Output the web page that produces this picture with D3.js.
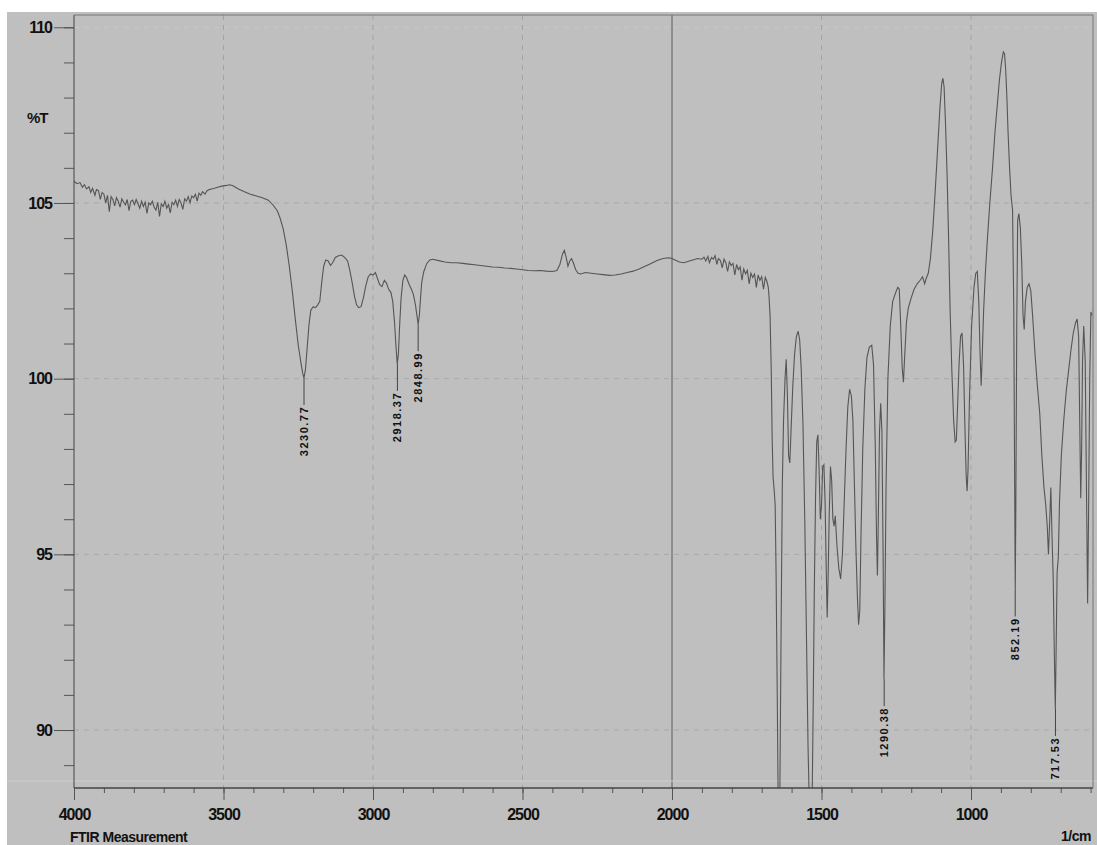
<!DOCTYPE html>
<html>
<head>
<meta charset="utf-8">
<script src="https://cdn.jsdelivr.net/npm/d3@7"></script>
<style>
body{margin:0;background:#fff;}
svg{display:block;font-family:"Liberation Sans",Arial,sans-serif;}
</style>
</head>
<body>
<svg id="screen" width="1097" height="845"></svg>
<script>
// spectrum (1/cm, %T)
var wavenumber=[
4000,3990,3980,3972,3965,3958,3950,3944,3938,3930,3925,3918,3912,3906,3900,3894,3888,3882,3876,3870,3864,3858,3852,3846,3840,3834,3828,3822,3816,3810,3804,3798,3792,3786,3780,3774,3768,3762,3756,3750,3744,3738,3732,3726,3720,3714,3708,3702,3696,3690,3684,3678,3672,3666,3660,3654,3648,3642,3636,3630,3624,3618,3612,3606,3600,3594,3588,3582,3576,3570,3562,3555,3548,
3540,3530,3520,3505,3490,3480,3470,3450,3430,3410,3390,3370,3350,3335,3320,3310,3300,3290,3280,3270,3260,3250,3240,3235,3231,3226,3220,3214,3208,3200,3192,3185,3178,3172,3165,3158,3150,3142,3135,3126,3115,3105,3095,3085,3078,3070,3062,3055,3048,3040,3032,3024,3016,3008,3000,2992,2985,2978,2970,2962,2955,2948,2940,2934,2928,2923,2919,2915,2911,2906,2900,2894,2888,2880,2872,2865,2858,2854,2849,2845,2841,2837,2830,2820,2810,2800,2780,2760,2740,2720,2700,2680,2660,2640,2620,2600,2580,2560,2540,2520,2500,2480,2460,2440,2420,2400,2385,2375,2366,2360,2354,2348,2342,2336,2330,2322,2314,2305,2290,2270,2250,2230,2210,2190,2170,2150,2130,2110,2090,2070,2050,2030,2010,2000,1990,1975,1960,1945,1930,1915,
1900,1893,1887,1880,1875,1868,1862,1856,1850,1845,1838,1832,1826,1820,1814,1808,1802,1796,1790,1784,1778,1772,1766,1760,1754,1748,1742,1736,1730,1724,1718,1712,1706,1700,1694,1688,1682,1678,
1676,1672,1668,1665,1662,1658,1655,1652,1648,1645,1642,1639,1635,1631,1627,1622,1618,1614,1610,1606,1602,1596,1590,1584,1578,1573,1568,1562,1556,1550,1545,1540,1536,1532,1528,1524,1520,1516,1512,1508,1504,1500,1496,1492,1488,1484,1481,1478,1474,1470,1466,1462,1458,1454,1448,1442,1436,1430,1424,1418,1412,1406,1400,1395,1390,1385,1380,1376,1372,1368,1362,1355,1348,1340,1332,1326,1320,1316,1313,1310,1306,1302,1298,1294,1291,1288,1284,1278,1270,1262,1252,1245,1240,1235,1230,1226,1222,1216,1210,1200,1190,1180,1170,1162,1155,1150,1143,1136,1128,1120,1112,1104,1098,1094,1090,1085,1080,1075,1070,1064,1058,1053,1049,1045,1040,1035,1030,1025,1020,1016,1013,1010,1005,998,990,984,979,974,970,966,963,958,952,945,937,928,920,912,905,898,892,888,884,880,876,871,866,861,857,854,852,850,847,844,840,835,830,826,822,818,812,806,800,794,786,778,770,763,756,750,745,741,737,733,729,725,721,718,715,712,708,704,698,690,682,674,666,658,650,645,640,636,633,630,627,623,618,614,610,607,603,599,596];
var transmittance=[
105.62,105.55,105.58,105.45,105.52,105.40,105.46,105.30,105.42,105.22,105.38,105.35,105.10,105.30,105.25,105.00,105.22,104.75,105.18,105.10,104.92,105.15,105.05,104.88,105.12,105.02,104.95,105.10,104.78,105.05,105.08,104.95,105.10,104.98,104.85,105.05,104.90,105.02,104.70,105.00,104.95,105.05,104.88,104.80,105.02,104.62,104.98,104.90,105.05,104.85,104.95,104.72,105.02,104.95,105.08,104.90,105.10,105.00,104.82,105.12,105.05,105.18,105.00,105.20,105.15,105.25,105.05,105.28,105.22,105.32,105.25,105.35,105.38,
105.40,105.42,105.45,105.48,105.50,105.52,105.50,105.40,105.32,105.25,105.20,105.15,105.08,104.95,104.78,104.55,104.25,103.80,103.20,102.50,101.70,100.95,100.40,100.15,100.02,100.25,100.90,101.55,101.95,102.05,102.02,102.10,102.20,102.70,103.20,103.38,103.35,103.22,103.30,103.45,103.50,103.52,103.45,103.35,103.10,102.75,102.35,102.10,102.02,102.05,102.30,102.65,102.90,102.98,102.95,103.02,102.85,102.68,102.62,102.80,102.72,102.55,102.45,102.20,101.60,100.90,100.42,100.70,101.50,102.30,102.80,102.95,102.88,102.70,102.55,102.40,102.10,101.85,101.55,101.80,102.30,102.75,103.05,103.28,103.38,103.40,103.36,103.32,103.30,103.30,103.28,103.26,103.24,103.22,103.20,103.18,103.17,103.15,103.14,103.12,103.10,103.08,103.07,103.08,103.06,103.05,103.08,103.25,103.55,103.65,103.45,103.20,103.35,103.42,103.30,103.10,103.00,102.98,103.02,103.00,102.98,102.96,102.94,102.95,102.98,103.02,103.06,103.12,103.20,103.28,103.36,103.42,103.44,103.42,103.38,103.32,103.30,103.34,103.38,103.42,
103.40,103.46,103.35,103.48,103.30,103.45,103.40,103.50,103.25,103.42,103.36,103.15,103.40,103.30,103.05,103.32,103.22,103.28,102.95,103.25,103.10,103.18,102.80,103.12,102.98,103.08,102.70,103.00,102.88,102.98,102.60,102.95,102.80,102.90,102.55,102.88,102.75,102.60,
102.40,101.80,100.20,98.30,97.20,96.80,96.40,94.50,91.00,88.00,86.80,88.50,93.00,97.00,98.80,100.00,100.55,99.50,97.80,97.60,98.50,99.80,100.70,101.20,101.35,101.10,100.30,98.70,96.00,92.50,89.50,87.60,86.80,87.50,90.50,94.00,96.60,98.20,98.40,97.40,96.00,96.40,97.50,97.55,96.50,94.50,93.20,94.30,96.20,97.50,97.10,96.00,95.80,96.10,95.20,94.60,94.30,95.00,96.50,98.00,99.20,99.70,99.50,98.80,97.00,95.20,93.80,93.00,93.40,95.50,98.00,99.70,100.60,100.90,100.95,100.40,98.00,95.50,94.40,96.00,98.50,99.30,98.50,95.00,91.45,93.50,97.00,100.00,101.50,102.20,102.45,102.60,102.55,101.50,100.30,99.90,100.60,101.60,102.00,102.30,102.55,102.70,102.80,102.90,102.70,102.85,103.00,103.40,104.20,105.30,106.50,107.70,108.40,108.55,108.30,107.20,105.80,104.00,102.00,100.20,98.80,98.20,98.25,99.20,100.40,101.20,101.30,100.40,98.50,97.20,96.80,97.40,99.50,101.50,102.60,103.00,103.05,102.20,100.80,99.80,100.50,101.90,103.00,104.00,105.00,106.00,107.00,107.80,108.50,109.00,109.30,109.25,108.80,108.00,107.00,106.00,105.20,104.80,102.00,97.00,94.00,96.50,101.50,104.50,104.70,104.30,103.20,101.80,101.40,102.20,102.60,102.70,102.50,101.80,100.70,99.80,99.00,97.80,96.90,96.40,95.80,95.00,95.90,96.90,95.50,94.30,92.00,90.60,92.50,94.50,94.90,96.50,97.80,98.80,99.60,100.20,100.80,101.30,101.60,101.70,101.20,98.50,96.60,98.00,100.50,101.50,100.50,97.00,93.60,96.00,100.00,101.90,101.80];

// labelled peaks
var peakWavenumber=[3230.77,2918.37,2848.99,1290.38,852.19,717.53];
var peakT=[100.02,100.42,101.55,91.45,94.00,90.60];

// axis ticks
var xTicks=[4000,3500,3000,2500,2000,1500,1000];
var xGrid=[3500,3000,2500,1500,1000];
var yTicks=[90,95,100,105,110];

var svg=d3.select("#screen");
var plotLeft=74, plotRight=1093, plotTop=15, plotBottom=788;

var x=d3.scaleLinear().domain([4000,592]).range([plotLeft,plotRight]);
var y=d3.scaleLinear().domain([88.35,110.35]).range([plotBottom,plotTop]);

//Grey background with white strip at top and left
svg.append("rect").attr("x",0).attr("y",0).attr("width",1097).attr("height",845).attr("fill","#fff");
svg.append("rect").attr("x",7).attr("y",12).attr("width",1090).attr("height",833).attr("fill","#bfbfbf");

svg.append("clipPath").attr("id","plotclip").append("rect")
    .attr("x",plotLeft).attr("y",plotTop).attr("width",plotRight-plotLeft).attr("height",plotBottom-plotTop);

//Dashed grid lines
svg.selectAll(".hgrid").data(yTicks).enter().append("line").attr("class","hgrid")
    .attr("x1",plotLeft).attr("x2",plotRight)
    .attr("y1",function(d){return y(d);}).attr("y2",function(d){return y(d);})
    .attr("stroke",function(d){return d==110?"#c9c9c9":"#a9a9a9";}).attr("stroke-dasharray","5,5");
svg.selectAll(".vgrid").data(xGrid).enter().append("line").attr("class","vgrid")
    .attr("y1",plotTop).attr("y2",plotBottom)
    .attr("x1",function(d){return x(d);}).attr("x2",function(d){return x(d);})
    .attr("stroke","#a3a3a3").attr("stroke-dasharray","5,5");

//Solid marker line at 2000
svg.append("line").attr("x1",x(2000)).attr("x2",x(2000)).attr("y1",plotTop).attr("y2",plotBottom)
    .attr("stroke","#5a5a5a").attr("stroke-width",1);

//light line just over the axis
svg.append("line").attr("x1",7).attr("x2",1097).attr("y1",781).attr("y2",781).attr("stroke","#cfcfcf");

//Spectrum
var data=[];
for(var i=0;i<wavenumber.length;i++){
    data.push([wavenumber[i],transmittance[i]]);
}
var line=d3.line().x(function(d){return x(d[0]);}).y(function(d){return y(d[1]);});
svg.append("path").datum(data).attr("d",line).attr("fill","none")
    .attr("stroke","#555").attr("stroke-width",1.1).attr("clip-path","url(#plotclip)");

//Peak markers and labels
var peaks=[];
for(var i=0;i<peakWavenumber.length;i++){
    peaks.push([peakWavenumber[i],peakT[i]]);
}
svg.selectAll(".pline").data(peaks).enter().append("line").attr("class","pline")
    .attr("x1",function(d){return x(d[0]);}).attr("x2",function(d){return x(d[0]);})
    .attr("y1",function(d){return y(d[1]);}).attr("y2",function(d){return y(d[1])+27;})
    .attr("stroke","#444");
svg.selectAll(".plabel").data(peaks).enter().append("text").attr("class","plabel")
    .attr("transform",function(d){return "translate("+(x(d[0])+4)+","+(y(d[1])+28)+") rotate(-90)";})
    .attr("text-anchor","end").attr("font-size","11px").attr("font-weight","bold")
    .attr("letter-spacing","1.5px").attr("fill","#111")
    .text(function(d){return d[0].toFixed(2);});

//Axes
var yAxis=d3.axisLeft(y).tickValues(yTicks).tickSize(20).tickPadding(2).tickFormat(d3.format("d"));
var yMinor=d3.axisLeft(y).tickValues(d3.range(89,111,1)).tickSize(10).tickFormat("");
var xAxis=d3.axisBottom(x).tickValues(xTicks).tickSize(12).tickPadding(9).tickFormat(d3.format("d"));
var xMinor=d3.axisBottom(x).tickValues(d3.range(600,4001,100)).tickSize(5).tickFormat("");

svg.append("g").attr("transform","translate("+plotLeft+",0)").call(yMinor);
svg.append("g").attr("transform","translate("+plotLeft+",0)").call(yAxis);
svg.append("g").attr("transform","translate(0,"+plotBottom+")").call(xMinor);
svg.append("g").attr("transform","translate(0,"+plotBottom+")").call(xAxis);

svg.selectAll(".domain").remove();
svg.selectAll(".tick line").attr("stroke","#555");
svg.selectAll(".tick text").attr("font-size","16px").attr("font-weight","bold")
    .attr("letter-spacing","-1px").attr("fill","#111").attr("font-family","Liberation Sans, Arial, sans-serif");

//Frame
svg.append("line").attr("x1",plotLeft).attr("x2",plotLeft).attr("y1",plotTop).attr("y2",plotBottom).attr("stroke","#444");
svg.append("line").attr("x1",plotLeft).attr("x2",plotRight).attr("y1",plotBottom).attr("y2",plotBottom).attr("stroke","#444").attr("stroke-width",1.5);
svg.append("line").attr("x1",plotLeft).attr("x2",plotRight).attr("y1",plotTop).attr("y2",plotTop).attr("stroke","#777");
svg.append("line").attr("x1",plotRight).attr("x2",plotRight).attr("y1",plotTop).attr("y2",plotBottom).attr("stroke","#777");

//Titles
svg.append("text").attr("x",27).attr("y",123).attr("font-size","15px").attr("font-weight","bold")
    .attr("letter-spacing","-1px").attr("fill","#111").text("%T");
svg.append("text").attr("x",70).attr("y",842).attr("font-size","14px").attr("font-weight","bold")
    .attr("letter-spacing","-0.5px").attr("fill","#111").text("FTIR Measurement");
svg.append("text").attr("x",1091).attr("y",841).attr("text-anchor","end").attr("font-size","14px")
    .attr("font-weight","bold").attr("letter-spacing","-0.5px").attr("fill","#111").text("1/cm");
</script>
</body>
</html>
